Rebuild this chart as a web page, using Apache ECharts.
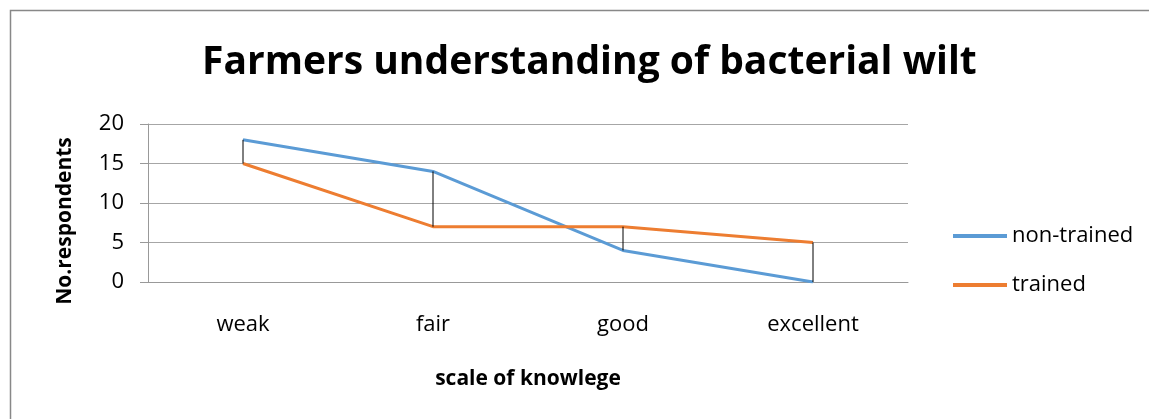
<!DOCTYPE html>
<html>
<head>
<meta charset="utf-8">
<script src="https://cdn.jsdelivr.net/npm/echarts@6/dist/echarts.min.js"></script>
<style>
  html, body { margin: 0; padding: 0; background: #fff; }
  #chart { width: 1149px; height: 419px; }
</style>
</head>
<body>
<div id="chart"></div>
<script>
// knowledge scale
const categories = ['weak', 'fair', 'good', 'excellent']
const nonTrained = [18, 14, 4, 0]
const trained = [15, 7, 7, 5]
const yTicks = [0, 5, 10, 15, 20]

const font = '"Open Sans", "Noto Sans", sans-serif'

// high-low pairs for the thin black connectors
const hiLow = categories.map((c, i) => [i, Math.min(nonTrained[i], trained[i]), Math.max(nonTrained[i], trained[i])])

const chart = echarts.init(document.getElementById('chart'))

chart.setOption({
  backgroundColor: '#fff',
  animation: false,
  textStyle: { fontFamily: font },
  title: {
    text: 'Farmers understanding of bacterial wilt',
    left: 197,
    top: 38,
    textStyle: { fontFamily: font, fontSize: 39, fontWeight: 'bold', color: '#000' }
  },
  graphic: [{
    type: 'rect',
    shape: { x: 10.5, y: 10.5, width: 1160, height: 430 },
    style: { fill: 'none', stroke: '#888', lineWidth: 1.5 },
    silent: true
  }],
  legend: {
    orient: 'vertical',
    left: 948,
    top: 220,
    itemWidth: 54,
    itemHeight: 4,
    itemGap: 27,
    icon: 'rect',
    textStyle: { fontFamily: font, fontSize: 22, color: '#000' },
    data: ['non-trained', 'trained']
  },
  grid: { left: 148, right: 241, top: 124, bottom: 137 },
  xAxis: {
    type: 'category',
    data: categories,
    boundaryGap: true,
    name: 'scale of knowlege',
    nameLocation: 'middle',
    nameGap: 87,
    nameTextStyle: { fontFamily: font, fontSize: 21, fontWeight: 'bold', color: '#000' },
    axisLine: { lineStyle: { color: '#999', width: 1 } },
    axisTick: { show: false },
    axisLabel: { fontFamily: font, fontSize: 22, color: '#000', margin: 32 }
  },
  yAxis: {
    type: 'value',
    min: 0,
    max: 20,
    interval: 5,
    name: 'No.respondents',
    nameLocation: 'middle',
    nameGap: 72,
    nameTextStyle: { fontFamily: font, fontSize: 21, fontWeight: 'bold', color: '#000', padding: [0, 36, 0, 0] },
    axisLine: { show: true, lineStyle: { color: '#999', width: 1 } },
    axisTick: { show: true, length: 8, lineStyle: { color: '#999' } },
    axisLabel: {
      fontFamily: font, fontSize: 22, color: '#000', margin: 24,
      formatter: v => yTicks.includes(v) ? String(v) : ''
    },
    splitLine: { lineStyle: { color: '#a6a6a6', width: 1 } }
  },
  series: [
    {
      name: 'hi-low',
      type: 'custom',
      data: hiLow,
      z: 3,
      renderItem: (params, api) => {
        const lo = api.coord([api.value(0), api.value(1)])
        const hi = api.coord([api.value(0), api.value(2)])
        return {
          type: 'line',
          shape: { x1: lo[0], y1: lo[1], x2: hi[0], y2: hi[1] },
          style: { stroke: '#000', lineWidth: 1 }
        }
      },
      encode: { x: 0, y: [1, 2] },
      silent: true
    },
    {
      name: 'non-trained',
      type: 'line',
      data: nonTrained,
      symbol: 'none',
      color: '#5b9bd5',
      lineStyle: { width: 3, color: '#5b9bd5' },
      z: 2
    },
    {
      name: 'trained',
      type: 'line',
      data: trained,
      symbol: 'none',
      color: '#ed7d31',
      lineStyle: { width: 3, color: '#ed7d31' },
      z: 2
    }
  ]
})
</script>
</body>
</html>
